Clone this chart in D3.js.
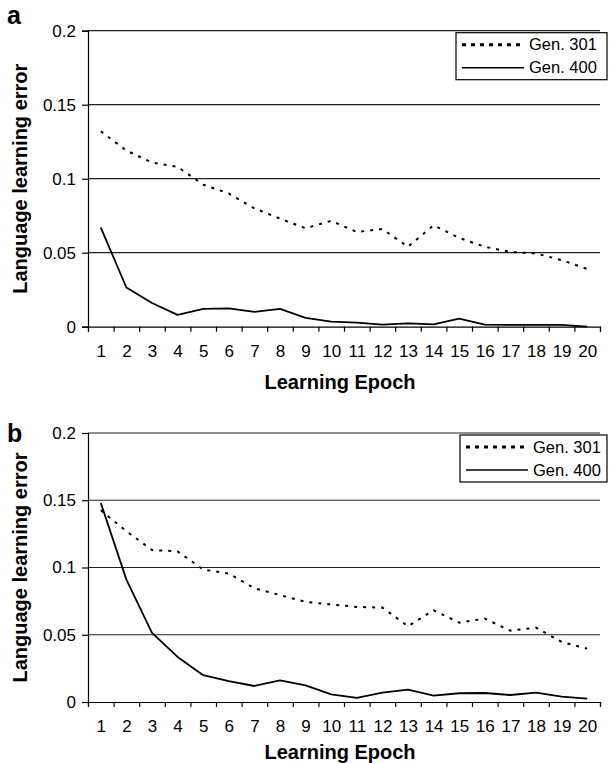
<!DOCTYPE html>
<html>
<head>
<meta charset="utf-8">
<script src="https://cdnjs.cloudflare.com/ajax/libs/d3/7.8.5/d3.min.js"></script>
<style>
  body { margin: 0; background: #fff; }
  svg text { font-family: "Liberation Sans", Arial, sans-serif; fill: #000; }
</style>
</head>
<body>
<script>
// learning epochs on the x axis
var epochs = [1, 2, 3, 4, 5, 6, 7, 8, 9, 10, 11, 12, 13, 14, 15, 16, 17, 18, 19, 20];
var yTicks = [0, 0.05, 0.1, 0.15, 0.2];
var seriesNames = ["Gen. 301", "Gen. 400"];

// panel a
var panelA301 = [0.132, 0.119, 0.111, 0.108, 0.096, 0.090, 0.080, 0.073, 0.0665, 0.0715,
  0.064, 0.066, 0.054, 0.0685, 0.060, 0.054, 0.0505, 0.0495, 0.045, 0.039];
var panelA400 = [0.067, 0.0265, 0.016, 0.008, 0.012, 0.0124, 0.010, 0.012, 0.006, 0.0034,
  0.0027, 0.0014, 0.0023, 0.0016, 0.0054, 0.0014, 0.0012, 0.0012, 0.0012, 0.0];

// panel b
var panelB301 = [0.1425, 0.127, 0.113, 0.112, 0.0985, 0.0955, 0.0845, 0.0795, 0.0745, 0.0725,
  0.0707, 0.0702, 0.0563, 0.0682, 0.059, 0.062, 0.053, 0.0553, 0.0447, 0.0397];
var panelB400 = [0.148, 0.091, 0.0514, 0.0335, 0.0199, 0.0156, 0.0119, 0.0161, 0.0124, 0.0057,
  0.003, 0.0069, 0.0092, 0.0047, 0.0065, 0.0067, 0.0052, 0.0069, 0.004, 0.0025];

var W = 609, H = 763;
var left = 88, right = 600;

var svg = d3.select("body").append("svg")
  .attr("width", W)
  .attr("height", H);

function drawPanel(opts) {
  var g = svg.append("g");
  var x = d3.scaleLinear().domain([0.5, 20.5]).range([left, right]);
  var y = d3.scaleLinear().domain([0, 0.2]).range([opts.bottom, opts.top]);

  // gridlines
  g.selectAll("line.grid")
    .data(yTicks.filter(function(d) { return d > 0; }))
    .enter().append("line")
    .attr("class", "grid")
    .attr("x1", left)
    .attr("x2", right)
    .attr("y1", function(d) { return y(d); })
    .attr("y2", function(d) { return y(d); })
    .attr("stroke", "#222")
    .attr("stroke-width", 1.2);

  // y axis
  var yAxis = g.append("g")
    .attr("transform", "translate(" + left + ",0)")
    .call(d3.axisLeft(y).tickValues(yTicks).tickSize(6).tickPadding(6)
      .tickFormat(function(d) { return String(d); }));
  yAxis.select(".domain").attr("stroke", "#000").attr("stroke-width", 1.2);
  yAxis.selectAll(".tick line").attr("stroke", "#000").attr("stroke-width", 1.2);
  yAxis.selectAll("text").style("font-size", "17px").attr("fill", "#000");

  // x axis: ticks between categories
  var xAxis = g.append("g")
    .attr("transform", "translate(0," + opts.bottom + ")")
    .call(d3.axisBottom(x).tickValues(d3.range(0.5, 21, 1)).tickSize(5).tickFormat(""));
  xAxis.select(".domain").attr("stroke", "#000").attr("stroke-width", 1.2);
  xAxis.selectAll(".tick line").attr("stroke", "#000").attr("stroke-width", 1.2);

  // x labels, centred on categories
  var xLabels = g.append("g")
    .attr("transform", "translate(0," + opts.bottom + ")")
    .call(d3.axisBottom(x).tickValues(epochs).tickSize(0).tickPadding(18)
      .tickFormat(function(d) { return d; }));
  xLabels.select(".domain").remove();
  xLabels.selectAll("text").style("font-size", "17px").attr("fill", "#000");

  var line = d3.line()
    .x(function(d, i) { return x(epochs[i]); })
    .y(function(d) { return y(d); });

  g.append("path")
    .datum(opts.gen301)
    .attr("d", line)
    .attr("fill", "none")
    .attr("stroke", "#000")
    .attr("stroke-width", 2)
    .attr("stroke-dasharray", "3,6");

  g.append("path")
    .datum(opts.gen400)
    .attr("d", line)
    .attr("fill", "none")
    .attr("stroke", "#000")
    .attr("stroke-width", 1.8)
    .attr("stroke-linejoin", "round");

  // titles
  g.append("text")
    .attr("x", (left + right) / 2 - 4)
    .attr("y", opts.bottom + opts.titleGap)
    .attr("text-anchor", "middle")
    .style("font-size", "20px")
    .style("font-weight", "bold")
    .text("Learning Epoch");

  g.append("text")
    .attr("transform", "translate(27," + ((opts.top + opts.bottom) / 2) + ") rotate(-90)")
    .attr("text-anchor", "middle")
    .style("font-size", "20px")
    .style("font-weight", "bold")
    .text("Language learning error");

  g.append("text")
    .attr("x", 7)
    .attr("y", opts.letterY)
    .style("font-size", "25px")
    .style("font-weight", "bold")
    .text(opts.letter);

  // legend
  var lg = g.append("g")
    .attr("transform", "translate(" + opts.legendX + "," + (opts.top + 2) + ")");
  lg.append("rect")
    .attr("width", 607 - opts.legendX)
    .attr("height", 47)
    .attr("fill", "#fff")
    .attr("stroke", "#000")
    .attr("stroke-width", 1.2);
  var rows = lg.selectAll("g.row")
    .data(seriesNames)
    .enter().append("g")
    .attr("class", "row")
    .attr("transform", function(d, i) { return "translate(0," + (12 + i * 23) + ")"; });
  rows.append("line")
    .attr("x1", 6)
    .attr("x2", 68)
    .attr("stroke", "#000")
    .attr("stroke-width", function(d, i) { return i === 0 ? 3 : 1.5; })
    .attr("stroke-dasharray", function(d, i) { return i === 0 ? "4,5" : null; });
  rows.append("text")
    .attr("x", 73)
    .attr("dy", "0.35em")
    .style("font-size", "16.5px")
    .text(function(d) { return d; });
}

drawPanel({ letter: "a", top: 30.7, bottom: 326.7, gen301: panelA301, gen400: panelA400,
  titleGap: 62, letterY: 24, legendX: 456 });
drawPanel({ letter: "b", top: 433, bottom: 702, gen301: panelB301, gen400: panelB400,
  titleGap: 57, letterY: 442, legendX: 460 });
</script>
</body>
</html>
